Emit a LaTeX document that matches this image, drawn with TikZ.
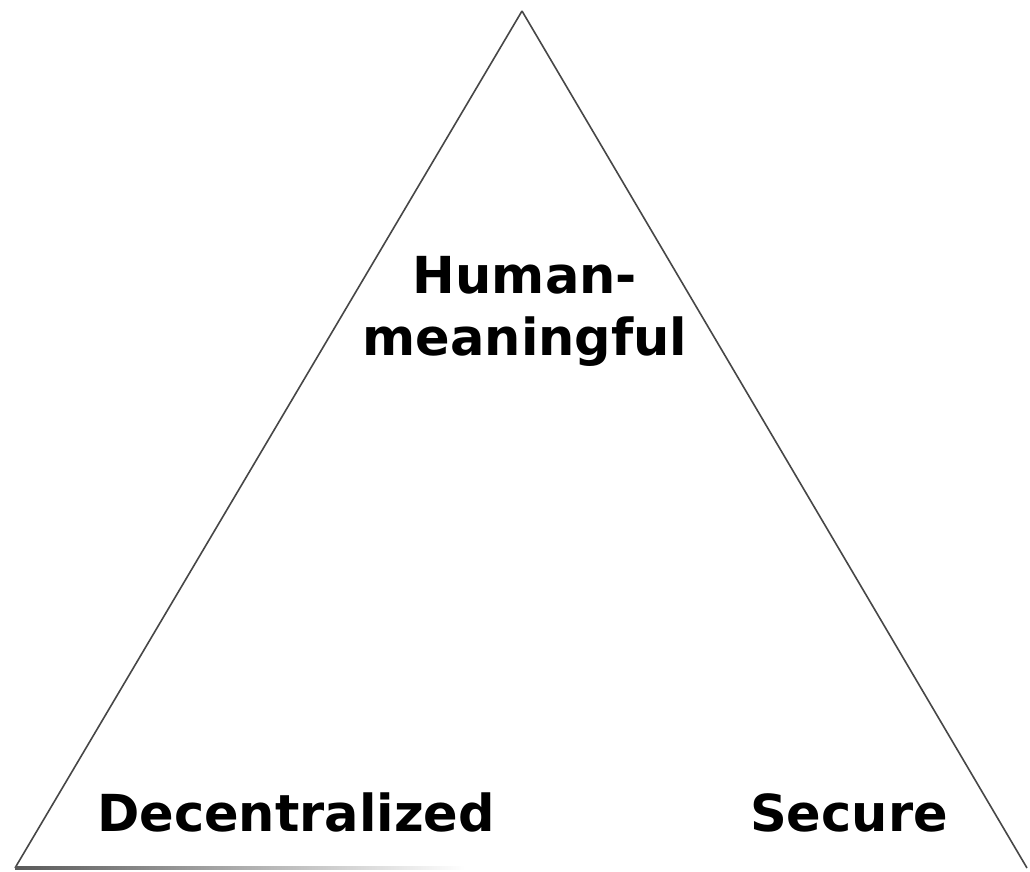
\documentclass[tikz,border=0pt]{standalone}
\usepackage{fontspec}
\setmainfont{DejaVu Sans}
\tikzset{
  edge/.style={draw=black!72, line width=1.6pt},
  lbl/.style={font=\bfseries\fontsize{51}{62}\selectfont, inner sep=0pt, anchor=base, align=center, text=black}
}
\begin{document}
\begin{tikzpicture}[x=1pt,y=-1pt]
\useasboundingbox[fill=white] (0,0) rectangle (1030,871);
\coordinate (A) at (522,11);
\coordinate (L) at (15,868);
\coordinate (R) at (1027,868);
\draw[edge] (A) -- (L);
\draw[edge] (A) -- (R);
\shade[left color=black!65, right color=white] (15,866.5) rectangle (465,869.5);
\node[lbl] (dec) at (296,831) {Decentralized};
\node[lbl] (sec) at (849,831) {Secure};
\node[lbl] (hum) at (525,355) {Human-\\meaningful};
\end{tikzpicture}
\end{document}
